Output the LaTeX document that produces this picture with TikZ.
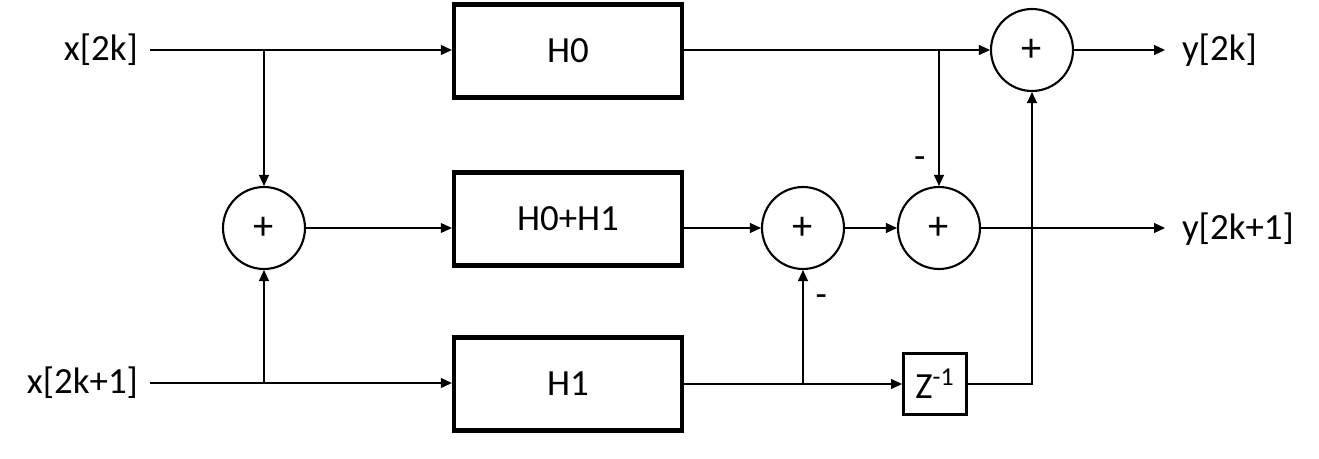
\documentclass[tikz,border=0pt]{standalone}
\usepackage{fontspec}
\setmainfont{Carlito}
\usepackage{tikz}
\usetikzlibrary{arrows.meta, positioning, calc}
\tikzset{
  filterbox/.style={rectangle, draw=black, line width=2.5pt, minimum width=4.56cm, minimum height=1.86cm, inner sep=0pt, font=\fontsize{21}{25}\selectfont, align=center},
  delaybox/.style={rectangle, draw=black, line width=1.7pt, minimum width=1.26cm, minimum height=1.22cm, inner sep=0pt, font=\fontsize{21}{25}\selectfont},
  sumnode/.style={circle, draw=black, line width=1.2pt, minimum size=1.64cm, inner sep=0pt, font=\fontsize{23}{27}\selectfont},
  inlabel/.style={anchor=east, inner sep=0pt, outer xsep=0.24cm, font=\fontsize{21}{25}\selectfont},
  outlabel/.style={anchor=west, inner sep=0pt, outer xsep=0.34cm, font=\fontsize{21}{25}\selectfont},
  signlabel/.style={inner sep=0pt, font=\fontsize{21}{25}\selectfont},
  arrow/.style={-{Triangle[length=0.22cm, width=0.2cm]}, line width=0.6pt}
}
\begin{document}
\begin{tikzpicture}[x=0.02cm, y=-0.02cm]
  \useasboundingbox (0,0) rectangle (1319,459);

  \node[inlabel] (xe) at (150,50) {x[2k]};
  \node[inlabel] (xo) at (150,383) {x[2k+1]};

  \node[filterbox] (h0) at (568,51) {H0};
  \node[filterbox] (h01) at (568,219) {H0+H1};
  \node[filterbox] (h1) at (568,384) {H1};

  \node[sumnode] (sin) at (264,228) {+};
  \node[sumnode] (smid) at (803,228) {+};
  \node[sumnode] (sodd) at (939,228) {+};
  \node[sumnode] (seven) at (1032,50) {+};

  \node[delaybox] (zinv) at (935,384) {Z\textsuperscript{-1}};

  \node[outlabel] (ye) at (1165,50) {y[2k]};
  \node[outlabel] (yo) at (1165,229) {y[2k+1]};

  \draw[arrow] (xe.east) -- (xe.east -| h0.west);
  \draw[arrow] (xo.east) -- (xo.east -| h1.west);
  \draw[arrow] (sin |- xe.east) -- (sin.north);
  \draw[arrow] (sin |- xo.east) -- (sin.south);
  \draw[arrow] (sin.east) -- (sin.east -| h01.west);

  \draw[arrow] (h01.east |- smid.west) -- (smid.west);
  \draw[arrow] (smid.east) -- (sodd.west);
  \draw[arrow] (h0.east |- seven.west) -- (seven.west);
  \draw[arrow] (sodd |- seven.west) -- node[signlabel, pos=0.83, left=0.26cm] {-} (sodd.north);

  \draw[arrow] (h1.east |- zinv.west) -- (zinv.west);
  \draw[arrow] (smid |- zinv.west) -- node[signlabel, pos=0.73, right=0.24cm] {-} (smid.south);
  \draw[arrow] (zinv.east) -| (seven.south);

  \draw[arrow] (seven.east) -- (ye.west);
  \draw[arrow] (sodd.east) -- (sodd.east -| yo.west);
\end{tikzpicture}
\end{document}
